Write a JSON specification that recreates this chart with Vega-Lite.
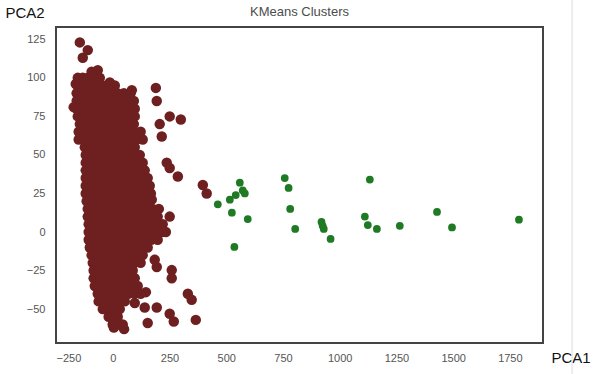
{
  "$schema": "https://vega.github.io/schema/vega-lite/v6.json",
  "width": 487,
  "height": 316,
  "autosize": {"type": "none"},
  "padding": {"left": 56, "top": 27, "right": 60, "bottom": 31},
  "background": "white",
  "config": {
    "view": {"stroke": "#444444", "strokeWidth": 2},
    "font": "Liberation Sans"
  },
  "title": {"text": "KMeans Clusters", "fontSize": 13, "fontWeight": "normal", "color": "#4d4d4d", "offset": -20, "font": "Liberation Sans"},
  "datasets": {
    "pts": [
      {"pc1":-154,"pc2":100,"cluster":"0"},{"pc1":-132,"pc2":100,"cluster":"0"},{"pc1":-110,"pc2":100,"cluster":"0"},{"pc1":-88,"pc2":100,"cluster":"0"},{"pc1":-66,"pc2":100,"cluster":"0"},
      {"pc1":-154,"pc2":95,"cluster":"0"},{"pc1":-127,"pc2":95,"cluster":"0"},{"pc1":-100,"pc2":95,"cluster":"0"},{"pc1":-72,"pc2":95,"cluster":"0"},{"pc1":-45,"pc2":95,"cluster":"0"},{"pc1":-18,"pc2":95,"cluster":"0"},{"pc1":9,"pc2":95,"cluster":"0"},
      {"pc1":-159,"pc2":90,"cluster":"0"},{"pc1":-129,"pc2":90,"cluster":"0"},{"pc1":-100,"pc2":90,"cluster":"0"},{"pc1":-70,"pc2":90,"cluster":"0"},{"pc1":-40,"pc2":90,"cluster":"0"},{"pc1":-10,"pc2":90,"cluster":"0"},{"pc1":20,"pc2":90,"cluster":"0"},{"pc1":49,"pc2":90,"cluster":"0"},{"pc1":79,"pc2":90,"cluster":"0"},
      {"pc1":-159,"pc2":85,"cluster":"0"},{"pc1":-131,"pc2":85,"cluster":"0"},{"pc1":-103,"pc2":85,"cluster":"0"},{"pc1":-75,"pc2":85,"cluster":"0"},{"pc1":-47,"pc2":85,"cluster":"0"},{"pc1":-19,"pc2":85,"cluster":"0"},{"pc1":9,"pc2":85,"cluster":"0"},{"pc1":37,"pc2":85,"cluster":"0"},{"pc1":65,"pc2":85,"cluster":"0"},{"pc1":93,"pc2":85,"cluster":"0"},
      {"pc1":-159,"pc2":80,"cluster":"0"},{"pc1":-131,"pc2":80,"cluster":"0"},{"pc1":-102,"pc2":80,"cluster":"0"},{"pc1":-74,"pc2":80,"cluster":"0"},{"pc1":-45,"pc2":80,"cluster":"0"},{"pc1":-17,"pc2":80,"cluster":"0"},{"pc1":11,"pc2":80,"cluster":"0"},{"pc1":40,"pc2":80,"cluster":"0"},{"pc1":68,"pc2":80,"cluster":"0"},{"pc1":97,"pc2":80,"cluster":"0"},
      {"pc1":-154,"pc2":75,"cluster":"0"},{"pc1":-126,"pc2":75,"cluster":"0"},{"pc1":-98,"pc2":75,"cluster":"0"},{"pc1":-70,"pc2":75,"cluster":"0"},{"pc1":-42,"pc2":75,"cluster":"0"},{"pc1":-14,"pc2":75,"cluster":"0"},{"pc1":14,"pc2":75,"cluster":"0"},{"pc1":41,"pc2":75,"cluster":"0"},{"pc1":69,"pc2":75,"cluster":"0"},{"pc1":97,"pc2":75,"cluster":"0"},
      {"pc1":-145,"pc2":70,"cluster":"0"},{"pc1":-115,"pc2":70,"cluster":"0"},{"pc1":-86,"pc2":70,"cluster":"0"},{"pc1":-56,"pc2":70,"cluster":"0"},{"pc1":-26,"pc2":70,"cluster":"0"},{"pc1":4,"pc2":70,"cluster":"0"},{"pc1":33,"pc2":70,"cluster":"0"},{"pc1":63,"pc2":70,"cluster":"0"},{"pc1":93,"pc2":70,"cluster":"0"},
      {"pc1":-150,"pc2":65,"cluster":"0"},{"pc1":-123,"pc2":65,"cluster":"0"},{"pc1":-95,"pc2":65,"cluster":"0"},{"pc1":-68,"pc2":65,"cluster":"0"},{"pc1":-41,"pc2":65,"cluster":"0"},{"pc1":-14,"pc2":65,"cluster":"0"},{"pc1":14,"pc2":65,"cluster":"0"},{"pc1":41,"pc2":65,"cluster":"0"},{"pc1":68,"pc2":65,"cluster":"0"},{"pc1":96,"pc2":65,"cluster":"0"},{"pc1":123,"pc2":65,"cluster":"0"},
      {"pc1":-150,"pc2":60,"cluster":"0"},{"pc1":-122,"pc2":60,"cluster":"0"},{"pc1":-94,"pc2":60,"cluster":"0"},{"pc1":-65,"pc2":60,"cluster":"0"},{"pc1":-37,"pc2":60,"cluster":"0"},{"pc1":-9,"pc2":60,"cluster":"0"},{"pc1":19,"pc2":60,"cluster":"0"},{"pc1":47,"pc2":60,"cluster":"0"},{"pc1":76,"pc2":60,"cluster":"0"},{"pc1":104,"pc2":60,"cluster":"0"},{"pc1":132,"pc2":60,"cluster":"0"},
      {"pc1":-123,"pc2":55,"cluster":"0"},{"pc1":-96,"pc2":55,"cluster":"0"},{"pc1":-68,"pc2":55,"cluster":"0"},{"pc1":-41,"pc2":55,"cluster":"0"},{"pc1":-13,"pc2":55,"cluster":"0"},{"pc1":14,"pc2":55,"cluster":"0"},{"pc1":42,"pc2":55,"cluster":"0"},{"pc1":69,"pc2":55,"cluster":"0"},{"pc1":97,"pc2":55,"cluster":"0"},
      {"pc1":-119,"pc2":50,"cluster":"0"},{"pc1":-89,"pc2":50,"cluster":"0"},{"pc1":-60,"pc2":50,"cluster":"0"},{"pc1":-30,"pc2":50,"cluster":"0"},{"pc1":0,"pc2":50,"cluster":"0"},{"pc1":30,"pc2":50,"cluster":"0"},{"pc1":60,"pc2":50,"cluster":"0"},{"pc1":89,"pc2":50,"cluster":"0"},{"pc1":119,"pc2":50,"cluster":"0"},
      {"pc1":-119,"pc2":45,"cluster":"0"},{"pc1":-91,"pc2":45,"cluster":"0"},{"pc1":-63,"pc2":45,"cluster":"0"},{"pc1":-35,"pc2":45,"cluster":"0"},{"pc1":-7,"pc2":45,"cluster":"0"},{"pc1":21,"pc2":45,"cluster":"0"},{"pc1":49,"pc2":45,"cluster":"0"},{"pc1":76,"pc2":45,"cluster":"0"},{"pc1":104,"pc2":45,"cluster":"0"},{"pc1":132,"pc2":45,"cluster":"0"},
      {"pc1":-119,"pc2":40,"cluster":"0"},{"pc1":-90,"pc2":40,"cluster":"0"},{"pc1":-61,"pc2":40,"cluster":"0"},{"pc1":-32,"pc2":40,"cluster":"0"},{"pc1":-3,"pc2":40,"cluster":"0"},{"pc1":26,"pc2":40,"cluster":"0"},{"pc1":55,"pc2":40,"cluster":"0"},{"pc1":84,"pc2":40,"cluster":"0"},{"pc1":112,"pc2":40,"cluster":"0"},{"pc1":141,"pc2":40,"cluster":"0"},
      {"pc1":-119,"pc2":35,"cluster":"0"},{"pc1":-92,"pc2":35,"cluster":"0"},{"pc1":-64,"pc2":35,"cluster":"0"},{"pc1":-37,"pc2":35,"cluster":"0"},{"pc1":-10,"pc2":35,"cluster":"0"},{"pc1":17,"pc2":35,"cluster":"0"},{"pc1":45,"pc2":35,"cluster":"0"},{"pc1":72,"pc2":35,"cluster":"0"},{"pc1":99,"pc2":35,"cluster":"0"},{"pc1":127,"pc2":35,"cluster":"0"},{"pc1":154,"pc2":35,"cluster":"0"},
      {"pc1":-119,"pc2":30,"cluster":"0"},{"pc1":-91,"pc2":30,"cluster":"0"},{"pc1":-63,"pc2":30,"cluster":"0"},{"pc1":-34,"pc2":30,"cluster":"0"},{"pc1":-6,"pc2":30,"cluster":"0"},{"pc1":22,"pc2":30,"cluster":"0"},{"pc1":50,"pc2":30,"cluster":"0"},{"pc1":79,"pc2":30,"cluster":"0"},{"pc1":107,"pc2":30,"cluster":"0"},{"pc1":135,"pc2":30,"cluster":"0"},{"pc1":163,"pc2":30,"cluster":"0"},
      {"pc1":-119,"pc2":25,"cluster":"0"},{"pc1":-90,"pc2":25,"cluster":"0"},{"pc1":-62,"pc2":25,"cluster":"0"},{"pc1":-33,"pc2":25,"cluster":"0"},{"pc1":-4,"pc2":25,"cluster":"0"},{"pc1":25,"pc2":25,"cluster":"0"},{"pc1":53,"pc2":25,"cluster":"0"},{"pc1":82,"pc2":25,"cluster":"0"},{"pc1":111,"pc2":25,"cluster":"0"},{"pc1":139,"pc2":25,"cluster":"0"},{"pc1":168,"pc2":25,"cluster":"0"},
      {"pc1":-115,"pc2":20,"cluster":"0"},{"pc1":-86,"pc2":20,"cluster":"0"},{"pc1":-56,"pc2":20,"cluster":"0"},{"pc1":-27,"pc2":20,"cluster":"0"},{"pc1":3,"pc2":20,"cluster":"0"},{"pc1":32,"pc2":20,"cluster":"0"},{"pc1":62,"pc2":20,"cluster":"0"},{"pc1":91,"pc2":20,"cluster":"0"},{"pc1":121,"pc2":20,"cluster":"0"},{"pc1":150,"pc2":20,"cluster":"0"},
      {"pc1":-110,"pc2":15,"cluster":"0"},{"pc1":-81,"pc2":15,"cluster":"0"},{"pc1":-53,"pc2":15,"cluster":"0"},{"pc1":-24,"pc2":15,"cluster":"0"},{"pc1":4,"pc2":15,"cluster":"0"},{"pc1":33,"pc2":15,"cluster":"0"},{"pc1":62,"pc2":15,"cluster":"0"},{"pc1":90,"pc2":15,"cluster":"0"},{"pc1":119,"pc2":15,"cluster":"0"},{"pc1":147,"pc2":15,"cluster":"0"},{"pc1":176,"pc2":15,"cluster":"0"},
      {"pc1":-110,"pc2":10,"cluster":"0"},{"pc1":-82,"pc2":10,"cluster":"0"},{"pc1":-54,"pc2":10,"cluster":"0"},{"pc1":-26,"pc2":10,"cluster":"0"},{"pc1":2,"pc2":10,"cluster":"0"},{"pc1":30,"pc2":10,"cluster":"0"},{"pc1":58,"pc2":10,"cluster":"0"},{"pc1":86,"pc2":10,"cluster":"0"},{"pc1":114,"pc2":10,"cluster":"0"},{"pc1":142,"pc2":10,"cluster":"0"},{"pc1":170,"pc2":10,"cluster":"0"},{"pc1":198,"pc2":10,"cluster":"0"},
      {"pc1":-106,"pc2":5,"cluster":"0"},{"pc1":-76,"pc2":5,"cluster":"0"},{"pc1":-47,"pc2":5,"cluster":"0"},{"pc1":-17,"pc2":5,"cluster":"0"},{"pc1":12,"pc2":5,"cluster":"0"},{"pc1":42,"pc2":5,"cluster":"0"},{"pc1":71,"pc2":5,"cluster":"0"},{"pc1":101,"pc2":5,"cluster":"0"},{"pc1":131,"pc2":5,"cluster":"0"},{"pc1":161,"pc2":5,"cluster":"0"},{"pc1":190,"pc2":5,"cluster":"0"},{"pc1":220,"pc2":5,"cluster":"0"},
      {"pc1":-106,"pc2":0,"cluster":"0"},{"pc1":-77,"pc2":0,"cluster":"0"},{"pc1":-47,"pc2":0,"cluster":"0"},{"pc1":-18,"pc2":0,"cluster":"0"},{"pc1":11,"pc2":0,"cluster":"0"},{"pc1":40,"pc2":0,"cluster":"0"},{"pc1":70,"pc2":0,"cluster":"0"},{"pc1":99,"pc2":0,"cluster":"0"},{"pc1":128,"pc2":0,"cluster":"0"},{"pc1":157,"pc2":0,"cluster":"0"},{"pc1":187,"pc2":0,"cluster":"0"},{"pc1":216,"pc2":0,"cluster":"0"},
      {"pc1":-106,"pc2":-5,"cluster":"0"},{"pc1":-78,"pc2":-5,"cluster":"0"},{"pc1":-51,"pc2":-5,"cluster":"0"},{"pc1":-23,"pc2":-5,"cluster":"0"},{"pc1":5,"pc2":-5,"cluster":"0"},{"pc1":32,"pc2":-5,"cluster":"0"},{"pc1":60,"pc2":-5,"cluster":"0"},{"pc1":87,"pc2":-5,"cluster":"0"},{"pc1":115,"pc2":-5,"cluster":"0"},{"pc1":143,"pc2":-5,"cluster":"0"},{"pc1":170,"pc2":-5,"cluster":"0"},{"pc1":198,"pc2":-5,"cluster":"0"},
      {"pc1":-101,"pc2":-10,"cluster":"0"},{"pc1":-73,"pc2":-10,"cluster":"0"},{"pc1":-44,"pc2":-10,"cluster":"0"},{"pc1":-16,"pc2":-10,"cluster":"0"},{"pc1":12,"pc2":-10,"cluster":"0"},{"pc1":41,"pc2":-10,"cluster":"0"},{"pc1":69,"pc2":-10,"cluster":"0"},{"pc1":97,"pc2":-10,"cluster":"0"},{"pc1":126,"pc2":-10,"cluster":"0"},{"pc1":154,"pc2":-10,"cluster":"0"},
      {"pc1":-93,"pc2":-15,"cluster":"0"},{"pc1":-65,"pc2":-15,"cluster":"0"},{"pc1":-37,"pc2":-15,"cluster":"0"},{"pc1":-9,"pc2":-15,"cluster":"0"},{"pc1":20,"pc2":-15,"cluster":"0"},{"pc1":48,"pc2":-15,"cluster":"0"},{"pc1":76,"pc2":-15,"cluster":"0"},{"pc1":104,"pc2":-15,"cluster":"0"},{"pc1":132,"pc2":-15,"cluster":"0"},
      {"pc1":-88,"pc2":-20,"cluster":"0"},{"pc1":-62,"pc2":-20,"cluster":"0"},{"pc1":-35,"pc2":-20,"cluster":"0"},{"pc1":-9,"pc2":-20,"cluster":"0"},{"pc1":18,"pc2":-20,"cluster":"0"},{"pc1":44,"pc2":-20,"cluster":"0"},{"pc1":70,"pc2":-20,"cluster":"0"},{"pc1":97,"pc2":-20,"cluster":"0"},{"pc1":123,"pc2":-20,"cluster":"0"},
      {"pc1":-84,"pc2":-25,"cluster":"0"},{"pc1":-55,"pc2":-25,"cluster":"0"},{"pc1":-27,"pc2":-25,"cluster":"0"},{"pc1":2,"pc2":-25,"cluster":"0"},{"pc1":31,"pc2":-25,"cluster":"0"},{"pc1":59,"pc2":-25,"cluster":"0"},{"pc1":88,"pc2":-25,"cluster":"0"},
      {"pc1":-84,"pc2":-30,"cluster":"0"},{"pc1":-58,"pc2":-30,"cluster":"0"},{"pc1":-32,"pc2":-30,"cluster":"0"},{"pc1":-6,"pc2":-30,"cluster":"0"},{"pc1":20,"pc2":-30,"cluster":"0"},{"pc1":45,"pc2":-30,"cluster":"0"},{"pc1":71,"pc2":-30,"cluster":"0"},{"pc1":97,"pc2":-30,"cluster":"0"},
      {"pc1":-79,"pc2":-35,"cluster":"0"},{"pc1":-52,"pc2":-35,"cluster":"0"},{"pc1":-25,"pc2":-35,"cluster":"0"},{"pc1":2,"pc2":-35,"cluster":"0"},{"pc1":29,"pc2":-35,"cluster":"0"},{"pc1":56,"pc2":-35,"cluster":"0"},{"pc1":83,"pc2":-35,"cluster":"0"},{"pc1":110,"pc2":-35,"cluster":"0"},
      {"pc1":-66,"pc2":-40,"cluster":"0"},{"pc1":-39,"pc2":-40,"cluster":"0"},{"pc1":-12,"pc2":-40,"cluster":"0"},{"pc1":15,"pc2":-40,"cluster":"0"},{"pc1":42,"pc2":-40,"cluster":"0"},{"pc1":69,"pc2":-40,"cluster":"0"},{"pc1":96,"pc2":-40,"cluster":"0"},{"pc1":123,"pc2":-40,"cluster":"0"},
      {"pc1":-62,"pc2":-45,"cluster":"0"},{"pc1":-33,"pc2":-45,"cluster":"0"},{"pc1":-5,"pc2":-45,"cluster":"0"},{"pc1":24,"pc2":-45,"cluster":"0"},{"pc1":53,"pc2":-45,"cluster":"0"},
      {"pc1":-44,"pc2":-50,"cluster":"0"},{"pc1":-19,"pc2":-50,"cluster":"0"},{"pc1":6,"pc2":-50,"cluster":"0"},{"pc1":31,"pc2":-50,"cluster":"0"},
      {"pc1":-18,"pc2":-55,"cluster":"0"},{"pc1":2,"pc2":-55,"cluster":"0"},{"pc1":22,"pc2":-55,"cluster":"0"},
      {"pc1":0,"pc2":-60,"cluster":"0"},{"pc1":22,"pc2":-60,"cluster":"0"},{"pc1":44,"pc2":-60,"cluster":"0"},
      {"pc1":5,"pc2":-62,"cluster":"0"},{"pc1":50,"pc2":-63,"cluster":"0"},
      {"pc1":-145,"pc2":123,"cluster":"0"},{"pc1":-110,"pc2":118,"cluster":"0"},{"pc1":-132,"pc2":113,"cluster":"0"},{"pc1":-93,"pc2":104,"cluster":"0"},{"pc1":-66,"pc2":105,"cluster":"0"},{"pc1":-57,"pc2":100,"cluster":"0"},{"pc1":-13,"pc2":97,"cluster":"0"},{"pc1":-163,"pc2":96,"cluster":"0"},{"pc1":-172,"pc2":81,"cluster":"0"},{"pc1":84,"pc2":92,"cluster":"0"},
      {"pc1":190,"pc2":93.5,"cluster":"0"},{"pc1":194,"pc2":85,"cluster":"0"},{"pc1":251,"pc2":75,"cluster":"0"},{"pc1":300,"pc2":73,"cluster":"0"},{"pc1":207,"pc2":70,"cluster":"0"},{"pc1":216,"pc2":62,"cluster":"0"},{"pc1":238,"pc2":45,"cluster":"0"},{"pc1":251,"pc2":41.5,"cluster":"0"},{"pc1":287,"pc2":36,"cluster":"0"},{"pc1":397,"pc2":30.5,"cluster":"0"},{"pc1":414,"pc2":25,"cluster":"0"},
      {"pc1":172,"pc2":21,"cluster":"0"},{"pc1":203,"pc2":15,"cluster":"0"},{"pc1":251,"pc2":10,"cluster":"0"},{"pc1":234,"pc2":0,"cluster":"0"},{"pc1":185,"pc2":-18,"cluster":"0"},{"pc1":194,"pc2":-22.7,"cluster":"0"},{"pc1":260,"pc2":-24.7,"cluster":"0"},{"pc1":260,"pc2":-30,"cluster":"0"},{"pc1":331,"pc2":-40,"cluster":"0"},{"pc1":348,"pc2":-44,"cluster":"0"},{"pc1":366,"pc2":-57,"cluster":"0"},
      {"pc1":251,"pc2":-53,"cluster":"0"},{"pc1":269,"pc2":-58,"cluster":"0"},{"pc1":154,"pc2":-59,"cluster":"0"},{"pc1":194,"pc2":-49,"cluster":"0"},{"pc1":97,"pc2":-46,"cluster":"0"},{"pc1":141,"pc2":-49,"cluster":"0"},{"pc1":146,"pc2":-39,"cluster":"0"},
      {"pc1":560,"pc2":32,"cluster":"1"},{"pc1":573,"pc2":27,"cluster":"1"},{"pc1":582,"pc2":25,"cluster":"1"},{"pc1":542,"pc2":24,"cluster":"1"},{"pc1":516,"pc2":21,"cluster":"1"},{"pc1":463,"pc2":18,"cluster":"1"},{"pc1":525,"pc2":12.5,"cluster":"1"},{"pc1":595,"pc2":8.4,"cluster":"1"},{"pc1":536,"pc2":-9.7,"cluster":"1"},
      {"pc1":758,"pc2":35,"cluster":"1"},{"pc1":775,"pc2":28.6,"cluster":"1"},{"pc1":782,"pc2":15,"cluster":"1"},{"pc1":804,"pc2":2,"cluster":"1"},
      {"pc1":920,"pc2":6.5,"cluster":"1"},{"pc1":925,"pc2":4,"cluster":"1"},{"pc1":930,"pc2":2,"cluster":"1"},{"pc1":960,"pc2":-4.5,"cluster":"1"},
      {"pc1":1133,"pc2":34,"cluster":"1"},{"pc1":1111,"pc2":10,"cluster":"1"},{"pc1":1124,"pc2":4.5,"cluster":"1"},{"pc1":1164,"pc2":2,"cluster":"1"},
      {"pc1":1265,"pc2":4,"cluster":"1"},{"pc1":1429,"pc2":13,"cluster":"1"},{"pc1":1495,"pc2":3,"cluster":"1"},{"pc1":1790,"pc2":8,"cluster":"1"}
    ]
  },
  "layer": [
    {
      "data": {"name": "pts"},
      "mark": {"type": "circle", "opacity": 1, "strokeWidth": 0},
      "encoding": {
        "x": {
          "field": "pc1", "type": "quantitative",
          "scale": {"domain": [-250, 1896], "nice": false, "zero": false},
          "axis": {
            "values": [-250, 0, 250, 500, 750, 1000, 1250, 1500, 1750], "format": "d",
            "grid": false, "ticks": false, "domain": false,
            "labelPadding": 9, "labelFontSize": 11, "labelColor": "#555555", "labelFont": "Liberation Sans",
            "title": "PCA1", "titleFontSize": 15, "titleFontWeight": "normal", "titleColor": "#111111", "titleFont": "Liberation Sans",
            "titleAnchor": "start", "titleAlign": "left", "titleBaseline": "middle", "titleX": 495, "titleY": 14
          }
        },
        "y": {
          "field": "pc2", "type": "quantitative",
          "scale": {"domain": [-72, 133], "nice": false, "zero": false},
          "axis": {
            "values": [-50, -25, 0, 25, 50, 75, 100, 125], "format": "d",
            "grid": false, "ticks": false, "domain": false,
            "labelPadding": 11, "labelFontSize": 11, "labelColor": "#555555", "labelFont": "Liberation Sans",
            "title": "PCA2", "titleAngle": 0, "titleFontSize": 15, "titleFontWeight": "normal", "titleColor": "#111111", "titleFont": "Liberation Sans",
            "titleAlign": "left", "titleBaseline": "middle", "titleX": -51, "titleY": -15
          }
        },
        "color": {
          "field": "cluster", "type": "nominal",
          "scale": {"domain": ["0", "1"], "range": ["#6e2020", "#1f7a24"]},
          "legend": null
        },
        "size": {
          "field": "cluster", "type": "nominal",
          "scale": {"domain": ["0", "1"], "range": [110, 60]},
          "legend": null
        }
      }
    },
    {
      "data": {"values": [{"x": 2024, "y": 151, "y2": -93}]},
      "mark": {"type": "rule", "color": "#dddddd", "strokeWidth": 1, "clip": false},
      "encoding": {
        "x": {"field": "x", "type": "quantitative"},
        "y": {"field": "y", "type": "quantitative"},
        "y2": {"field": "y2"}
      }
    }
  ]
}
